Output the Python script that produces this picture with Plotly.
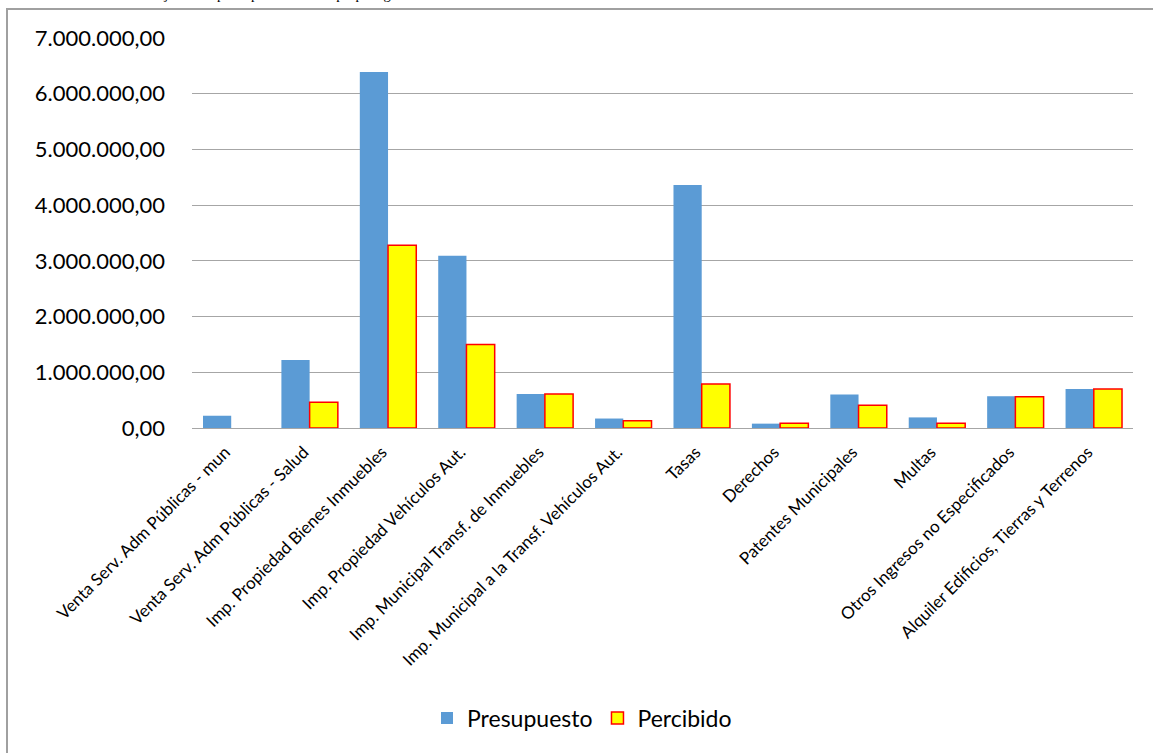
import plotly.graph_objects as go

categories = [
    "Venta Serv. Adm Públicas - mun",
    "Venta Serv. Adm Públicas - Salud",
    "Imp. Propiedad Bienes Inmuebles",
    "Imp. Propiedad Vehículos Aut.",
    "Imp. Municipal Transf. de Inmuebles",
    "Imp. Municipal a la Transf. Vehículos Aut.",
    "Tasas",
    "Derechos",
    "Patentes Municipales",
    "Multas",
    "Otros Ingresos no Especificados",
    "Alquiler Edificios, Tierras y Terrenos",
]
presupuesto = [220000, 1220000, 6390000, 3090000, 610000, 170000,
               4360000, 78000, 600000, 190000, 570000, 700000]
percibido = [None, 460000, 3280000, 1500000, 610000, 130000,
             790000, 84000, 410000, 84000, 560000, 700000]
title_text = "Flujo de los principales recursos propios genuinos"

W, H = 1153, 753
# plot area in page pixels (body margin removed, figure at page origin)
PL, PR, PT, PB = 192, 1133, 38, 428
ML, MT, MR, MB = PL, PT, W - PR, H - PB
PW = PR - PL
PH = PB - PT


def px_x(p):
    return (p - PL) / PW


def px_y(p):
    return (PB - p) / PH


fig = go.Figure()
fig.add_trace(go.Bar(
    name="Presupuesto", x=categories, y=presupuesto,
    marker=dict(color="#5B9BD5", line=dict(width=0)),
))
fig.add_trace(go.Bar(
    name="Percibido", x=categories, y=percibido,
    marker=dict(color="#FFFF00", line=dict(color="#FF0000", width=1.5)),
))

fig.update_layout(
    width=W, height=H,
    margin=dict(l=ML, r=MR, t=MT, b=MB, autoexpand=False),
    paper_bgcolor="white", plot_bgcolor="white",
    barmode="group", bargap=0.28, bargroupgap=0,
    separators=",.",
    font=dict(family="Lato, Carlito, Noto Sans, sans-serif", color="#000000"),
    showlegend=True,
    legend=dict(orientation="h", x=px_x(582), xanchor="center",
                y=px_y(718), yanchor="middle",
                font=dict(size=23, color="#000000"),
                itemwidth=30, bgcolor="rgba(0,0,0,0)"),
)
fig.update_yaxes(
    range=[0, 7000000], dtick=1000000, tickformat=",.2f",
    showgrid=True, gridcolor="#A6A6A6", gridwidth=1,
    zeroline=True, zerolinecolor="#A6A6A6", zerolinewidth=1,
    showline=False, ticks="", ticklabelstandoff=26,
    tickfont=dict(size=22, color="#000000"),
)
fig.update_xaxes(
    tickangle=-45, showgrid=False, showline=False, ticks="",
    ticklabelshift=-6, ticklabelstandoff=10,
    tickfont=dict(size=17, color="#000000"),
)

# outer chart border (extends beyond the right and bottom edges)
fig.add_shape(type="rect", xref="paper", yref="paper",
              x0=px_x(7), x1=px_x(1175), y0=px_y(775), y1=px_y(9),
              line=dict(color="#A0A0A0", width=2), fillcolor="rgba(0,0,0,0)",
              layer="below")

# title, mostly cut off at the top of the image
fig.add_annotation(
    text=title_text, xref="paper", yref="paper",
    x=px_x(143), xanchor="left", y=px_y(4), yanchor="bottom",
    showarrow=False,
    font=dict(family="Liberation Serif, Times New Roman, serif", size=14.5, color="#000000"),
)

fig.write_html(
    "out.html",
    config={"displayModeBar": False},
    post_script="document.body.style.margin='0';document.body.style.padding='0';",
)
